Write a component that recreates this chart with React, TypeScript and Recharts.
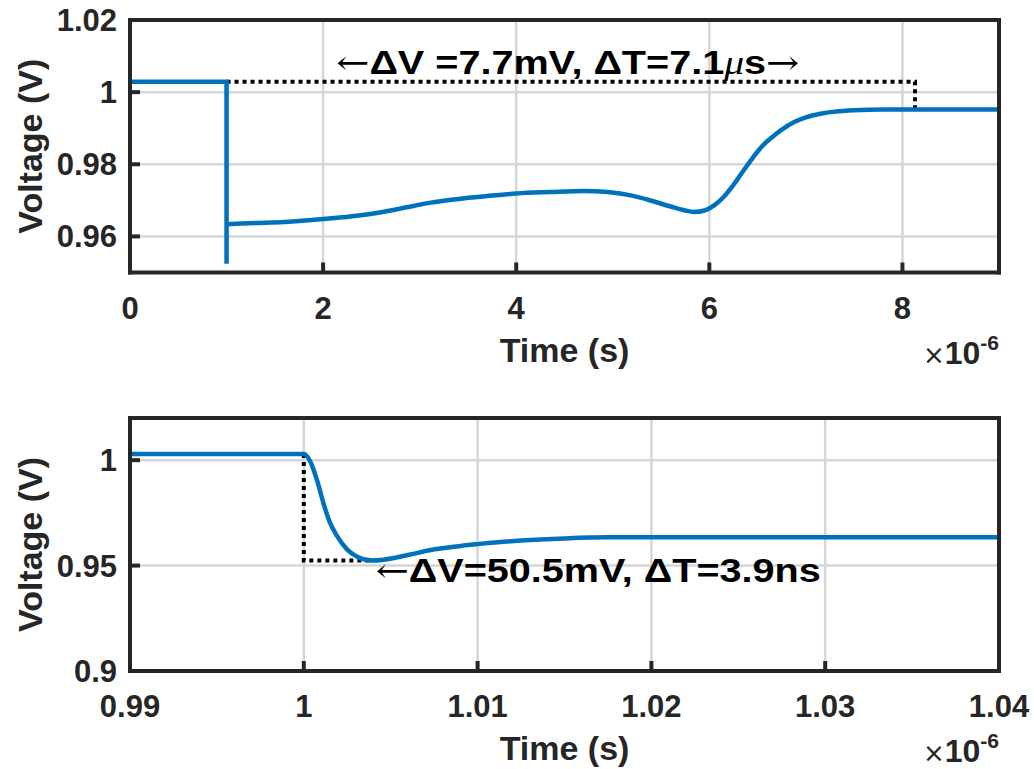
import React from "react";
import { LineChart, Line, XAxis, YAxis, CartesianGrid, ReferenceDot } from "recharts";

// ---------- data (time in units of 1e-6 s, voltage in V) ----------
const topStepTime = [0, 1.0, 1.0];
const topStepVolt = [1.0029, 1.0029, 0.9524];
const topCurveTime = [1.0, 1.3, 1.6, 2.0, 2.3, 2.6, 2.85, 3.1, 3.4, 3.7, 4.0, 4.35, 4.7, 4.95, 5.2, 5.4, 5.6, 5.75, 5.84, 5.95, 6.05, 6.15, 6.25, 6.36, 6.45, 6.55, 6.65, 6.75, 6.88, 7.0, 7.15, 7.3, 7.5, 7.8, 8.0, 9.0];
const topCurveVolt = [0.9634, 0.9637, 0.964, 0.9648, 0.9656, 0.9667, 0.968, 0.9693, 0.9704, 0.9712, 0.9719, 0.9723, 0.9726, 0.9723, 0.9713, 0.9699, 0.9683, 0.9672, 0.9668, 0.9672, 0.9686, 0.971, 0.9743, 0.9785, 0.9818, 0.9851, 0.9875, 0.9896, 0.9917, 0.993, 0.994, 0.9946, 0.995, 0.9952, 0.9952, 0.9952];
const topDashTime = [1.0, 8.13, 8.13];
const topDashVolt = [1.0029, 1.0029, 0.9952];

const botCurveTime = [0.99, 1.0, 1.0004, 1.0008, 1.00115, 1.0015, 1.0019, 1.0025, 1.0031, 1.0039, 1.0046, 1.006, 1.0073, 1.0089, 1.0108, 1.0125, 1.015, 1.0175, 1.02, 1.04];
const botCurveVolt = [1.0029, 1.0029, 0.9989, 0.9894, 0.979, 0.9705, 0.9642, 0.9576, 0.9541, 0.9524, 0.9528, 0.955, 0.9574, 0.9592, 0.9608, 0.9619, 0.9629, 0.9634, 0.9634, 0.9634];
const botDashTime = [1.0, 1.0, 1.0039];
const botDashVolt = [1.0029, 0.9524, 0.9524];

const topXDomain = [0, 9];
const topYDomain = [0.95, 1.02];
const botXDomain = [0.99, 1.04];
const botYDomain = [0.9, 1.02];

const topXTicks = [0, 2, 4, 6, 8];
const topXLabels = ["0", "2", "4", "6", "8"];
const topYTicks = [0.96, 0.98, 1.0, 1.02];
const topYLabels = ["0.96", "0.98", "1", "1.02"];
const botXTicks = [0.99, 1.0, 1.01, 1.02, 1.03, 1.04];
const botXLabels = ["0.99", "1", "1.01", "1.02", "1.03", "1.04"];
const botYTicks = [0.9, 0.95, 1.0];
const botYLabels = ["0.9", "0.95", "1"];

const topAnnoPos = { t: 2.136, v: 1.00497 };
const botAnnoPos = { t: 1.004135, v: 0.94238 };

const zip = (ts: number[], vs: number[]) => ts.map((t, i) => ({ t, v: vs[i] }));
const topStep = zip(topStepTime, topStepVolt);
const topCurve = zip(topCurveTime, topCurveVolt);
const topDash = zip(topDashTime, topDashVolt);
const botCurve = zip(botCurveTime, botCurveVolt);
const botDash = zip(botDashTime, botDashVolt);

// ---------- styles ----------
const AX = "#262626";
const BLUE = "#0072BD";
const GRID = "#d6d6d6";
const SANS = "'Liberation Sans', Arial, Helvetica, sans-serif";
const TICK_FS = 31;
const LABEL_FS = 34;
const ANNO_FS = 33;
const ANNO_SX = 1.2;
const LW = 4.5;
const AXW = 4;

const labelFor = (ticks: number[], labels: string[], v: number) => {
  let best = 0;
  ticks.forEach((t, i) => {
    if (Math.abs(t - v) < Math.abs(ticks[best] - v)) best = i;
  });
  return labels[best];
};

// bottom axis tick: label below, short inward tick mark, plus the bottom frame edge segment
const makeXTick = (ticks: number[], labels: string[]) => (props: any) => {
  const { x, y, payload } = props;
  return (
    <g>
      <line x1={x} y1={y} x2={x} y2={y - 10} stroke={AX} strokeWidth={AXW} />
      <text x={x} y={y + 46} textAnchor="middle" fontFamily={SANS} fontWeight={700} fontSize={TICK_FS} fill={AX}>
        {labelFor(ticks, labels, payload.value)}
      </text>
    </g>
  );
};

const makeYTick = (ticks: number[], labels: string[]) => (props: any) => {
  const { x, y, payload } = props;
  return (
    <g>
      <line x1={x} y1={y} x2={x + 10} y2={y} stroke={AX} strokeWidth={AXW} />
      <text x={x - 13} y={y + 11} textAnchor="end" fontFamily={SANS} fontWeight={700} fontSize={TICK_FS} fill={AX}>
        {labelFor(ticks, labels, payload.value)}
      </text>
    </g>
  );
};

const EmptyTick = () => <g />;

const XLabel = (props: any) => {
  const vb = props.viewBox || {};
  const cx = vb.x + vb.width / 2;
  const right = vb.x + vb.width;
  return (
    <g>
      <text x={cx} y={vb.y + 89} textAnchor="middle" fontFamily={SANS} fontWeight={700} fontSize={LABEL_FS} fill={AX}>
        Time (s)
      </text>
      <text x={right} y={vb.y + 91} textAnchor="end" fontFamily={SANS} fill={AX}>
        <tspan fontWeight={400} fontSize={26} fontFamily="'DejaVu Sans', sans-serif">×</tspan>
        <tspan fontWeight={700} fontSize={32}>10</tspan>
        <tspan fontWeight={700} fontSize={21} dy={-14}>-6</tspan>
      </text>
    </g>
  );
};

const YLabel = (props: any) => {
  const vb = props.viewBox || {};
  const cy = vb.y + vb.height / 2;
  const bx = 42;
  return (
    <text
      x={bx}
      y={cy}
      transform={`rotate(-90, ${bx}, ${cy})`}
      textAnchor="middle"
      fontFamily={SANS}
      fontWeight={700}
      fontSize={LABEL_FS}
      fill={AX}
    >
      Voltage (V)
    </text>
  );
};

const ARROW_FONT = "'DejaVu Serif', 'Liberation Serif', serif";

const TopAnno = (props: any) => {
  const vb = props.viewBox || {};
  return (
    <g transform={`translate(${vb.x},${vb.y}) scale(${ANNO_SX},1)`}>
      <text x={0} y={0} fontFamily={SANS} fontWeight={700} fontSize={ANNO_FS} fill="#000">
        <tspan fontFamily={ARROW_FONT} fontWeight={400}>←</tspan>
        <tspan>ΔV =7.7mV, ΔT=7.1</tspan>
        <tspan fontFamily="'Liberation Serif', serif" fontStyle="italic" fontWeight={400}>μ</tspan>
        <tspan>s</tspan>
        <tspan fontFamily={ARROW_FONT} fontWeight={400}>→</tspan>
      </text>
    </g>
  );
};

const BotAnno = (props: any) => {
  const vb = props.viewBox || {};
  return (
    <g transform={`translate(${vb.x},${vb.y}) scale(${ANNO_SX},1)`}>
      <text x={0} y={0} fontFamily={SANS} fontWeight={700} fontSize={ANNO_FS} fill="#000">
        <tspan fontFamily={ARROW_FONT} fontWeight={400}>←</tspan>
        <tspan>ΔV=50.5mV, ΔT=3.9ns</tspan>
      </text>
    </g>
  );
};

const tickLineStyle = { stroke: AX, strokeWidth: AXW };
const axisLineStyle = { stroke: AX, strokeWidth: AXW, strokeLinecap: "square" as const };

function Panel(props: {
  height: number;
  margin: any;
  xDomain: number[];
  yDomain: number[];
  xTicks: number[];
  xLabels: string[];
  yTicks: number[];
  yLabels: string[];
  xAxisHeight: number;
  children: React.ReactNode;
}) {
  const p = props;
  return (
    <LineChart width={1034} height={p.height} margin={p.margin}>
      <CartesianGrid stroke={GRID} strokeWidth={2.5} />
      {p.children}
      <XAxis dataKey="t" type="number" domain={p.xDomain} ticks={p.xTicks} interval={0} height={p.xAxisHeight} tickSize={0} tickMargin={0} tickLine={false} stroke={AX} strokeWidth={AXW} axisLine={axisLineStyle} tick={makeXTick(p.xTicks, p.xLabels)} label={XLabel} />
      <XAxis xAxisId="top" orientation="top" type="number" domain={p.xDomain} ticks={p.xTicks} interval={0} mirror height={1} tickSize={10} stroke={AX} strokeWidth={AXW} tickLine={tickLineStyle} axisLine={axisLineStyle} tick={EmptyTick} />
      <YAxis type="number" domain={p.yDomain} ticks={p.yTicks} interval={0} width={130} tickSize={0} tickMargin={0} tickLine={false} stroke={AX} strokeWidth={AXW} axisLine={axisLineStyle} tick={makeYTick(p.yTicks, p.yLabels)} label={YLabel} />
      <YAxis yAxisId="right" orientation="right" type="number" domain={p.yDomain} ticks={p.yTicks} interval={0} mirror width={1} tickSize={10} stroke={AX} strokeWidth={AXW} tickLine={tickLineStyle} axisLine={axisLineStyle} tick={EmptyTick} />
    </LineChart>
  );
}

export default function App() {
  return (
    <div style={{ position: "absolute", left: 0, top: 0, width: 1034, height: 769, background: "#fff" }}>
      <div style={{ position: "absolute", left: 0, top: 0 }}>
        <Panel
          height={385}
          margin={{ top: 20, right: 35, bottom: 12.5, left: 0 }}
          xDomain={topXDomain}
          yDomain={topYDomain}
          xTicks={topXTicks}
          xLabels={topXLabels}
          yTicks={topYTicks}
          yLabels={topYLabels}
          xAxisHeight={100}
        >
          <Line data={topDash} dataKey="v" type="linear" stroke="#000" strokeWidth={4} strokeDasharray="4 4" dot={false} isAnimationActive={false} />
          <Line data={topStep} dataKey="v" type="linear" stroke={BLUE} strokeWidth={LW} dot={false} isAnimationActive={false} />
          <Line data={topCurve} dataKey="v" type="monotone" stroke={BLUE} strokeWidth={LW} dot={false} isAnimationActive={false} />
          <ReferenceDot x={topAnnoPos.t} y={topAnnoPos.v} r={0} fill="none" stroke="none" label={TopAnno} />
        </Panel>
      </div>
      <div style={{ position: "absolute", left: 0, top: 385 }}>
        <Panel
          height={384}
          margin={{ top: 33, right: 35, bottom: 8, left: 0 }}
          xDomain={botXDomain}
          yDomain={botYDomain}
          xTicks={botXTicks}
          xLabels={botXLabels}
          yTicks={botYTicks}
          yLabels={botYLabels}
          xAxisHeight={90}
        >
          <Line data={botDash} dataKey="v" type="linear" stroke="#000" strokeWidth={4} strokeDasharray="4 4" dot={false} isAnimationActive={false} />
          <Line data={botCurve} dataKey="v" type="monotone" stroke={BLUE} strokeWidth={LW} dot={false} isAnimationActive={false} />
          <ReferenceDot x={botAnnoPos.t} y={botAnnoPos.v} r={0} fill="none" stroke="none" label={BotAnno} />
        </Panel>
      </div>
    </div>
  );
}
